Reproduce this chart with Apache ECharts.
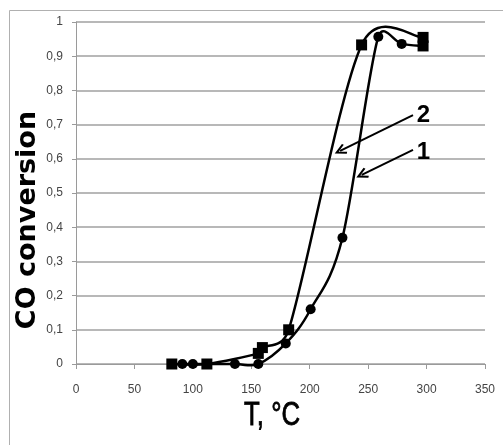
<!DOCTYPE html>
<html>
<head>
<meta charset="utf-8">
<script src="https://cdn.jsdelivr.net/npm/echarts@6/dist/echarts.min.js"></script>
<style>
  html, body { margin: 0; padding: 0; background: #fff; }
  #chart { width: 503px; height: 445px; }
</style>
</head>
<body>
<div id="chart"></div>
<script>
// curve 1 (circles)
const temp1 = [91, 100, 136, 156, 179.5, 200.8, 228, 258.7, 278.7, 297];
const conv1 = [0, 0, 0, 0, 0.06, 0.16, 0.369, 0.957, 0.936, 0.93];
// curve 2 (squares)
const temp2 = [82, 112, 156, 159.5, 182, 244.4, 297];
const conv2 = [0, 0, 0.031, 0.048, 0.1, 0.933, 0.955];

// arrow annotations
const arrowLabels = ['2', '1'];
const labelPos = [[297.2, 0.728], [297.2, 0.62]];
const arrowFrom = [[288.4, 0.728], [288.4, 0.626]];
const arrowTo = [[226, 0.623], [244.5, 0.553]];

const font = '"Liberation Sans", Arial, sans-serif';
const chevron = 'path://M10,0 L20,17 L17,19 L10,7 L3,19 L0,17 Z';

// Excel-like smoothed line: cubic beziers with Catmull-Rom tangents (in pixels)
function smoothCurve(xs, ys, api) {
  const p = xs.map((x, i) => api.coord([x, ys[i]]));
  const n = p.length;
  const dist = (a, b) => Math.hypot(b[0] - a[0], b[1] - a[1]);
  const ctrl = (i, sign, segLen) => {
    const a = p[Math.max(i - 1, 0)], b = p[Math.min(i + 1, n - 1)];
    const len = dist(a, b) || 1;
    const m = Math.min(len / 6, segLen * 0.65);
    return [p[i][0] + sign * (b[0] - a[0]) / len * m, p[i][1] + sign * (b[1] - a[1]) / len * m];
  };
  const children = [];
  for (let i = 0; i < n - 1; i++) {
    const L = dist(p[i], p[i + 1]);
    const c1 = ctrl(i, 1, L), c2 = ctrl(i + 1, -1, L);
    children.push({
      type: 'bezierCurve',
      shape: { x1: p[i][0], y1: p[i][1], cpx1: c1[0], cpy1: c1[1], cpx2: c2[0], cpy2: c2[1], x2: p[i + 1][0], y2: p[i + 1][1] },
      style: { stroke: '#000', lineWidth: 2.5, fill: null }
    });
  }
  return { type: 'group', children };
}

const curveSeries = (xs, ys) => ({
  type: 'custom',
  silent: true,
  clip: false,
  data: [[xs[0], ys[0]]],
  renderItem: (params, api) => smoothCurve(xs, ys, api),
  z: 2
});

const markers1 = temp1.map((t, i) => {
  const item = { value: [t, conv1[i]] };
  if (i === temp1.length - 1) { item.symbol = 'rect'; item.symbolSize = 11; }
  return item;
});
const markers2 = temp2.map((t, i) => [t, conv2[i]]);

const chart = echarts.init(document.getElementById('chart'));

const option = {
  backgroundColor: '#fff',
  animation: false,
  graphic: [
    {
      type: 'rect',
      shape: { x: 9.5, y: 10.5, width: 520, height: 460 },
      style: { fill: 'none', stroke: '#b0b0b0', lineWidth: 1 },
      silent: true
    },
    {
      type: 'text',
      x: 28, y: 220, rotation: Math.PI / 2,
      style: {
        text: 'CO conversion', fill: '#000',
        font: 'bold 27px "DejaVu Sans", sans-serif',
        align: 'center', verticalAlign: 'middle'
      },
      silent: true
    },
    {
      type: 'text',
      x: 272, y: 416, scaleX: 0.78,
      style: {
        text: 'T, °C', fill: '#000', stroke: '#000', lineWidth: 0.8,
        font: '33px "Liberation Sans", Arial, sans-serif',
        align: 'center', verticalAlign: 'middle'
      },
      silent: true
    }
  ],
  grid: { left: 76, right: 18, top: 22, bottom: 81 },
  xAxis: {
    type: 'value',
    min: 0,
    max: 350,
    interval: 50,
    axisLine: { show: true, lineStyle: { color: '#9a9a9a', width: 1 } },
    axisTick: { show: true, length: 5, lineStyle: { color: '#9a9a9a' } },
    axisLabel: { margin: 20, fontFamily: font, fontSize: 12, color: '#444' },
    splitLine: { show: false }
  },
  yAxis: {
    type: 'value',
    min: 0,
    max: 1,
    interval: 0.1,
    axisLine: { show: true, lineStyle: { color: '#9a9a9a', width: 1 } },
    axisTick: { show: true, length: 4, lineStyle: { color: '#9a9a9a' } },
    axisLabel: {
      margin: 13,
      fontFamily: font,
      fontSize: 12,
      color: '#444',
      formatter: v => String(Math.round(v * 10) / 10).replace('.', ',')
    },
    splitLine: { show: true, lineStyle: { color: '#a0a0a0', width: 1.5 } }
  },
  series: [
    curveSeries(temp1, conv1),
    curveSeries(temp2, conv2),
    {
      name: '1',
      type: 'scatter',
      data: markers1,
      symbol: 'circle',
      symbolSize: 10,
      itemStyle: { color: '#000', opacity: 1 },
      z: 3
    },
    {
      name: '2',
      type: 'scatter',
      data: markers2,
      symbol: 'rect',
      symbolSize: 11,
      itemStyle: { color: '#000', opacity: 1 },
      z: 4,
      markLine: {
        silent: true,
        symbol: ['none', chevron],
        symbolSize: [11, 12],
        lineStyle: { color: '#000', width: 2, type: 'solid' },
        label: { show: false },
        data: arrowFrom.map((p, i) => [{ coord: p }, { coord: arrowTo[i] }])
      },
      markPoint: {
        silent: true,
        symbol: 'circle',
        symbolSize: 0,
        label: {
          show: true,
          position: 'inside',
          fontFamily: font,
          fontWeight: 'bold',
          fontSize: 24,
          color: '#000',
          formatter: p => p.name
        },
        data: arrowLabels.map((s, i) => ({ name: s, coord: labelPos[i] }))
      }
    }
  ]
};

chart.setOption(option);
</script>
</body>
</html>
